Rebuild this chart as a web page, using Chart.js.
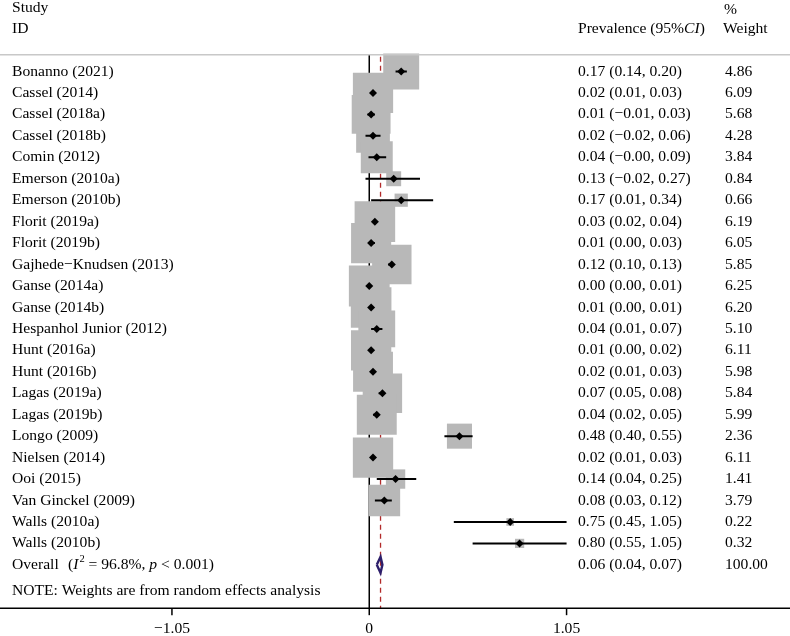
<!DOCTYPE html>
<html>
<head>
<meta charset="utf-8">
<script src="https://cdn.jsdelivr.net/npm/chart.js@4.4.1/dist/chart.umd.min.js"></script>
<style>
  html, body { margin: 0; padding: 0; background: #fff; }
  canvas { display: block; }
</style>
</head>
<body>
<canvas id="forest" width="790" height="636"></canvas>
<script>
// Study data
const studies = [
  'Bonanno (2021)', 'Cassel (2014)', 'Cassel (2018a)', 'Cassel (2018b)', 'Comin (2012)',
  'Emerson (2010a)', 'Emerson (2010b)', 'Florit (2019a)', 'Florit (2019b)', 'Gajhede\u2212Knudsen (2013)',
  'Ganse (2014a)', 'Ganse (2014b)', 'Hespanhol Junior (2012)', 'Hunt (2016a)', 'Hunt (2016b)',
  'Lagas (2019a)', 'Lagas (2019b)', 'Longo (2009)', 'Nielsen (2014)', 'Ooi (2015)',
  'Van Ginckel (2009)', 'Walls (2010a)', 'Walls (2010b)'
];
const prevalence = [0.17, 0.02, 0.01, 0.02, 0.04, 0.13, 0.17, 0.03, 0.01, 0.12, 0.00, 0.01, 0.04, 0.01, 0.02, 0.07, 0.04, 0.48, 0.02, 0.14, 0.08, 0.75, 0.80];
const ciLow = [0.14, 0.01, -0.01, -0.02, -0.004, -0.02, 0.01, 0.02, 0.00, 0.10, 0.00, 0.00, 0.01, 0.00, 0.01, 0.05, 0.02, 0.40, 0.01, 0.04, 0.03, 0.45, 0.55];
const ciHigh = [0.20, 0.03, 0.03, 0.06, 0.09, 0.27, 0.34, 0.04, 0.03, 0.13, 0.01, 0.01, 0.07, 0.02, 0.03, 0.08, 0.05, 0.55, 0.03, 0.25, 0.12, 1.05, 1.05];
const weights = [4.86, 6.09, 5.68, 4.28, 3.84, 0.84, 0.66, 6.19, 6.05, 5.85, 6.25, 6.20, 5.10, 6.11, 5.98, 5.84, 5.99, 2.36, 6.11, 1.41, 3.79, 0.22, 0.32];

const overallEst = 0.06;
const overallLow = 0.04;
const overallHigh = 0.07;
const overallWeight = '100.00';
const overallI2 = '96.8%';
const overallP = '0.001';

const xTicks = [-1.05, 0, 1.05];

const FONT = '15.6px "Liberation Serif", "Times New Roman", serif';
const ITALIC = 'italic 15.6px "Liberation Serif", "Times New Roman", serif';
const overallRow = studies.length;

function fmt(v) {
  return v.toFixed(2).replace('-', '\u2212');
}

// CI segments, broken apart with gaps
const ciSegments = [];
studies.forEach((s, i) => {
  ciSegments.push({ x: ciLow[i], y: i });
  ciSegments.push({ x: ciHigh[i], y: i });
  ciSegments.push({ x: null, y: null });
});

const overallDiamond = [
  { x: overallLow, y: overallRow },
  { x: overallEst, y: overallRow - 0.37 },
  { x: overallHigh, y: overallRow },
  { x: overallEst, y: overallRow + 0.37 },
  { x: overallLow, y: overallRow }
];

// reference lines (drawn under the boxes) + text columns and axis (drawn on top)
const forestDecor = {
  id: 'forestDecor',
  beforeDatasetsDraw(chart) {
    const ctx = chart.ctx;
    const xs = chart.scales.x, ys = chart.scales.y;
    const top = ys.getPixelForValue(-0.78);
    const bottom = ys.getPixelForValue(25.02);
    ctx.save();
    ctx.strokeStyle = '#000';
    ctx.lineWidth = 1.5;
    ctx.beginPath();
    ctx.moveTo(xs.getPixelForValue(0), top);
    ctx.lineTo(xs.getPixelForValue(0), bottom);
    ctx.stroke();
    ctx.strokeStyle = '#b22a2a';
    ctx.lineWidth = 1.3;
    ctx.setLineDash([5, 4]);
    ctx.beginPath();
    ctx.moveTo(xs.getPixelForValue(overallEst), top + 2);
    ctx.lineTo(xs.getPixelForValue(overallEst), bottom);
    ctx.stroke();
    ctx.restore();
  },
  afterDraw(chart) {
    const ctx = chart.ctx;
    const xs = chart.scales.x, ys = chart.scales.y;
    const colCI = 578, colW = 724, colID = 12;
    ctx.save();
    ctx.fillStyle = '#000';
    ctx.textBaseline = 'middle';
    ctx.font = FONT;

    // header
    ctx.fillText('Study', colID, ys.getPixelForValue(-2.97));
    ctx.fillText('ID', colID, ys.getPixelForValue(-1.98));
    ctx.fillText('%', colW, ys.getPixelForValue(-2.87));
    ctx.fillText('Weight', colW - 1, ys.getPixelForValue(-1.98));
    let x = colCI;
    const yh = ys.getPixelForValue(-1.98);
    ctx.fillText('Prevalence (95%', x, yh);
    x += ctx.measureText('Prevalence (95%').width;
    ctx.font = ITALIC;
    ctx.fillText('CI', x, yh);
    x += ctx.measureText('CI').width;
    ctx.font = FONT;
    ctx.fillText(')', x, yh);

    // separator
    ctx.strokeStyle = '#c8c8c8';
    ctx.lineWidth = 1.5;
    ctx.beginPath();
    ctx.moveTo(0, ys.getPixelForValue(-0.78));
    ctx.lineTo(chart.width, ys.getPixelForValue(-0.78));
    ctx.stroke();

    // rows
    studies.forEach((s, i) => {
      const y = ys.getPixelForValue(i);
      ctx.fillText(s, colID, y);
      ctx.fillText(`${fmt(prevalence[i])} (${fmt(ciLow[i])}, ${fmt(ciHigh[i])})`, colCI, y);
      ctx.fillText(weights[i].toFixed(2), colW + 1, y);
    });

    // overall row
    const yo = ys.getPixelForValue(overallRow);
    ctx.fillText('Overall', colID, yo);
    x = 68;
    ctx.fillText('(', x, yo); x += ctx.measureText('(').width;
    ctx.font = ITALIC;
    ctx.fillText('I', x, yo); x += ctx.measureText('I').width + 1;
    ctx.font = '10.5px "Liberation Serif", serif';
    ctx.fillText('2', x, yo - 6); x += ctx.measureText('2').width;
    ctx.font = FONT;
    const mid = ` = ${overallI2}, `;
    ctx.fillText(mid, x, yo); x += ctx.measureText(mid).width;
    ctx.font = ITALIC;
    ctx.fillText('p', x, yo); x += ctx.measureText('p').width;
    ctx.font = FONT;
    ctx.fillText(` < ${overallP})`, x, yo);
    ctx.fillText(`${fmt(overallEst)} (${fmt(overallLow)}, ${fmt(overallHigh)})`, colCI, yo);
    ctx.fillText(overallWeight, colW + 1, yo);

    ctx.fillText('NOTE: Weights are from random effects analysis', colID, ys.getPixelForValue(24.2));

    // x axis
    const ya = ys.getPixelForValue(25.02);
    ctx.strokeStyle = '#000';
    ctx.lineWidth = 1.5;
    ctx.beginPath();
    ctx.moveTo(0, ya);
    ctx.lineTo(chart.width, ya);
    ctx.stroke();
    ctx.textAlign = 'center';
    xTicks.forEach(t => {
      const px = xs.getPixelForValue(t);
      ctx.beginPath();
      ctx.moveTo(px, ya);
      ctx.lineTo(px, ya + 7);
      ctx.stroke();
      ctx.fillText(t === 0 ? '0' : fmt(t), px, ya + 21);
    });
    ctx.restore();
  }
};

new Chart(document.getElementById('forest').getContext('2d'), {
  type: 'scatter',
  data: {
    datasets: [
      {
        label: 'overall',
        data: overallDiamond,
        showLine: true,
        borderColor: '#2d1f6b',
        borderWidth: 2.4,
        pointRadius: 0,
        fill: false,
        order: 0
      },
      {
        label: 'estimate',
        data: prevalence.map((v, i) => ({ x: v, y: i })),
        pointStyle: 'rectRot',
        pointRadius: 4,
        backgroundColor: '#000',
        borderColor: '#000',
        borderWidth: 0,
        order: 1
      },
      {
        label: 'ci',
        data: ciSegments,
        showLine: true,
        spanGaps: false,
        borderColor: '#000',
        borderWidth: 2,
        pointRadius: 0,
        order: 2
      },
      {
        label: 'weight',
        data: prevalence.map((v, i) => ({ x: v, y: i })),
        pointStyle: 'rect',
        pointRadius: weights.map(w => 11.53 * Math.sqrt(w)),
        backgroundColor: '#b8b8b8',
        borderWidth: 0,
        order: 3
      }
    ]
  },
  options: {
    responsive: false,
    animation: false,
    devicePixelRatio: 1,
    layout: { padding: 0, autoPadding: false },
    plugins: {
      legend: { display: false },
      tooltip: { enabled: false }
    },
    scales: {
      x: { type: 'linear', display: false, min: -1.965, max: 2.239 },
      y: { type: 'linear', display: false, reverse: true, min: -3.333, max: 26.317 }
    }
  },
  plugins: [forestDecor]
});
</script>
</body>
</html>
